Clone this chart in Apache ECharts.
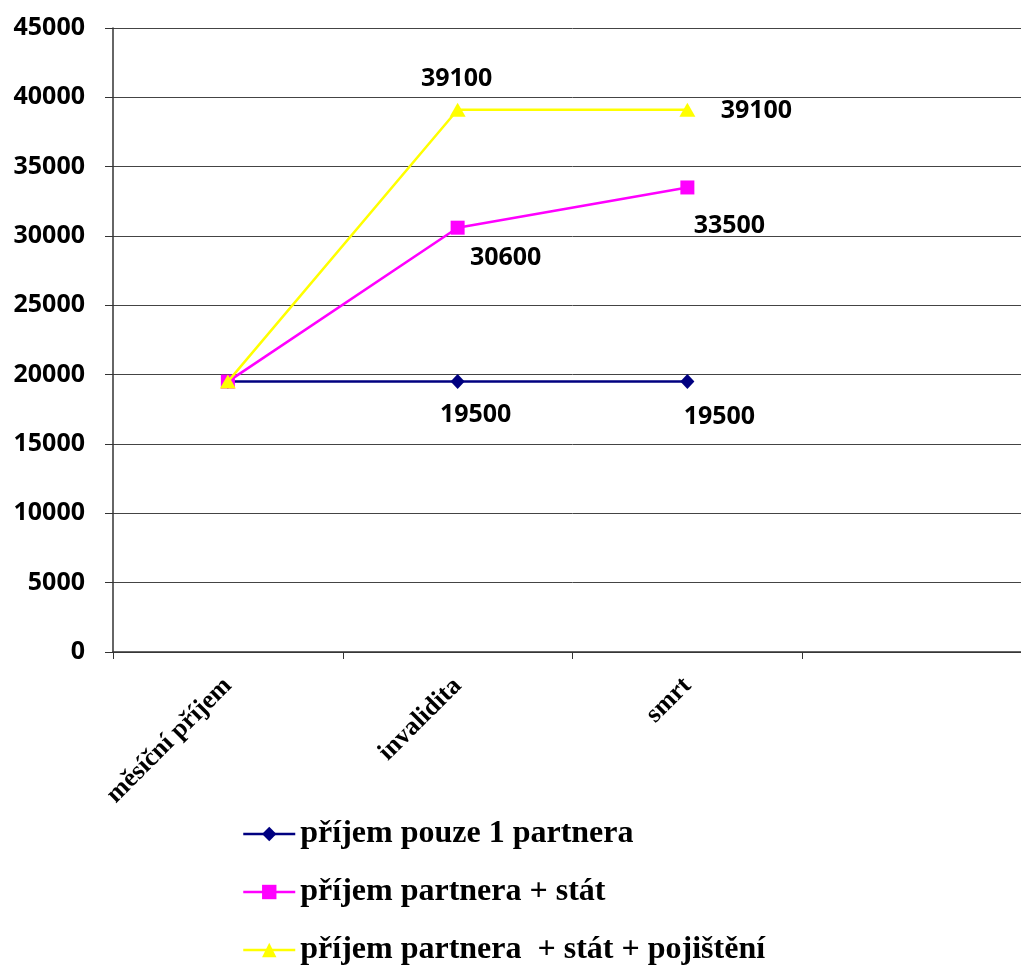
<!DOCTYPE html>
<html>
<head>
<meta charset="utf-8">
<script src="https://cdn.jsdelivr.net/npm/echarts@6/dist/echarts.min.js"></script>
<style>
  html, body { margin: 0; padding: 0; background: #fff; overflow: hidden; }
  #chart { width: 1033px; height: 965px; }
</style>
</head>
<body>
<div id="chart"></div>
<script>
// Categories (the fourth slot is left empty, as in the original sheet)
const categories = ['měsíční příjem', 'invalidita', 'smrt', ''];

// Series names
const seriesNames = [
  'příjem pouze 1 partnera',
  'příjem partnera + stát',
  'příjem partnera  + stát + pojištění'
];

// Series values
const onlyPartner = [19500, 19500, 19500];
const partnerState = [19500, 30600, 33500];
const partnerStateInsurance = [19500, 39100, 39100];

// Y axis range
const yMin = 0, yMax = 45000, yStep = 5000;

const labelFont = {
  fontFamily: '"Open Sans", sans-serif',
  fontWeight: 'bold',
  fontSize: 25,
  color: '#000'
};

// Build data items; the first point carries no value label,
// the others get a label placed by a per-point offset.
function withLabels(values, offsets) {
  return values.map((v, i) => {
    const off = offsets[i];
    if (!off) return { value: v };
    return {
      value: v,
      label: Object.assign({ show: true, position: 'inside', offset: off }, labelFont)
    };
  });
}

const chart = echarts.init(document.getElementById('chart'), null, { renderer: 'canvas' });

chart.setOption({
  backgroundColor: '#ffffff',
  animation: false,
  grid: { left: 113, top: 28, height: 624, right: 1, containLabel: false },
  legend: {
    orient: 'vertical',
    left: 237,
    top: 812,
    height: 160,
    itemWidth: 52,
    itemHeight: 18,
    itemGap: 24,
    lineStyle: { width: 2.5 },
    textStyle: {
      fontFamily: '"Liberation Serif", "Times New Roman", serif',
      fontWeight: 'bold',
      fontSize: 32,
      lineHeight: 34,
      color: '#000'
    },
    data: seriesNames
  },
  xAxis: {
    type: 'category',
    data: categories,
    boundaryGap: true,
    axisLine: { show: true, lineStyle: { color: '#333', width: 1.5 } },
    axisTick: { show: true, interval: 0, length: 7, lineStyle: { color: '#333', width: 1 } },
    axisLabel: {
      interval: 0,
      rotate: 45,
      margin: 30,
      fontFamily: '"Liberation Serif", "Times New Roman", serif',
      fontWeight: 'bold',
      fontSize: 26,
      color: '#000'
    },
    splitLine: { show: false }
  },
  yAxis: {
    type: 'value',
    min: yMin,
    max: yMax,
    interval: yStep,
    axisLine: { show: true, lineStyle: { color: '#333', width: 1.5 } },
    axisTick: { show: true, length: 8, lineStyle: { color: '#333', width: 1 } },
    axisLabel: Object.assign({ margin: 28, formatter: v => String(v) }, labelFont),
    splitLine: { show: true, lineStyle: { color: '#444', width: 1 } }
  },
  series: [
    {
      name: seriesNames[0],
      type: 'line',
      data: withLabels(onlyPartner, [null, [18, 33], [32, 35]]),
      symbol: 'diamond',
      symbolSize: [14, 15],
      color: '#000080',
      lineStyle: { color: '#000080', width: 2.5 },
      itemStyle: { color: '#000080' },
      z: 2
    },
    {
      name: seriesNames[1],
      type: 'line',
      data: withLabels(partnerState, [null, [48, 30], [42, 38]]),
      symbol: 'rect',
      symbolSize: 14,
      color: '#ff00ff',
      lineStyle: { color: '#ff00ff', width: 2.5 },
      itemStyle: { color: '#ff00ff' },
      z: 3
    },
    {
      name: seriesNames[2],
      type: 'line',
      data: withLabels(partnerStateInsurance, [null, [-1, -31], [69, 1]]),
      symbol: 'triangle',
      symbolSize: [16, 14],
      color: '#ffff00',
      lineStyle: { color: '#ffff00', width: 2.5 },
      itemStyle: { color: '#ffff00' },
      z: 4
    }
  ]
});
</script>
</body>
</html>
